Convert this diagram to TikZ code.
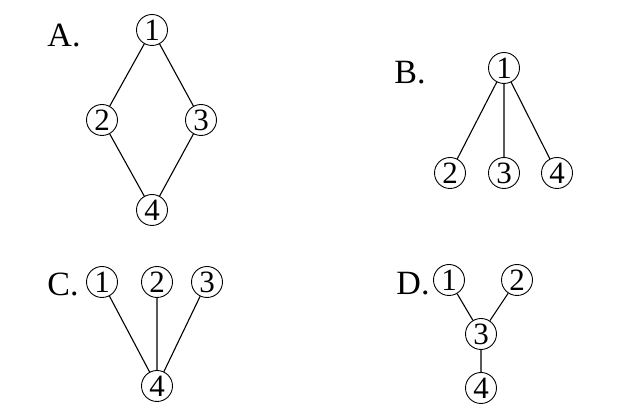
\documentclass[tikz,border=0pt]{standalone}
\usepackage{fontspec}
\setmainfont{Liberation Serif}
\begin{document}
\begin{tikzpicture}[x=1pt,y=-1pt,
  vtx/.style={draw,circle,line width=0.9pt,inner sep=0pt,minimum size=31pt,font=\fontsize{31}{31}\selectfont},
  lab/.style={font=\fontsize{34}{34}\selectfont,inner sep=0pt},
  edge/.style={line width=1.1pt}]
\useasboundingbox[fill=white] (0,0) rectangle (625,419);
% A
\node[lab] (la) at (64,36) {A.};
\node[vtx] (a1) at (152,30) {1};
\node[vtx] (a2) at (102,120) {2};
\node[vtx] (a3) at (201,120) {3};
\node[vtx] (a4) at (152,210) {4};
\draw[edge] (a1) -- (a2) (a1) -- (a3) (a2) -- (a4) (a3) -- (a4);
% B
\node[lab] (lb) at (410,73) {B.};
\node[vtx] (b1) at (504,68) {1};
\node[vtx] (b2) at (450,173) {2};
\node[vtx] (b3) at (504,173) {3};
\node[vtx] (b4) at (557,173) {4};
\draw[edge] (b1) -- (b2) (b1) -- (b3) (b1) -- (b4);
% C
\node[lab] (lc) at (63,284) {C.};
\node[vtx] (c1) at (102,282) {1};
\node[vtx] (c2) at (157,282) {2};
\node[vtx] (c3) at (207,282) {3};
\node[vtx] (c4) at (157,386) {4};
\draw[edge] (c1) -- (c4) (c2) -- (c4) (c3) -- (c4);
% D
\node[lab] (ld) at (413,284) {D.};
\node[vtx] (d1) at (449,280) {1};
\node[vtx] (d2) at (517,280) {2};
\node[vtx] (d3) at (481,334) {3};
\node[vtx] (d4) at (481,388) {4};
\draw[edge] (d1) -- (d3) (d2) -- (d3) (d3) -- (d4);
\end{tikzpicture}
\end{document}
